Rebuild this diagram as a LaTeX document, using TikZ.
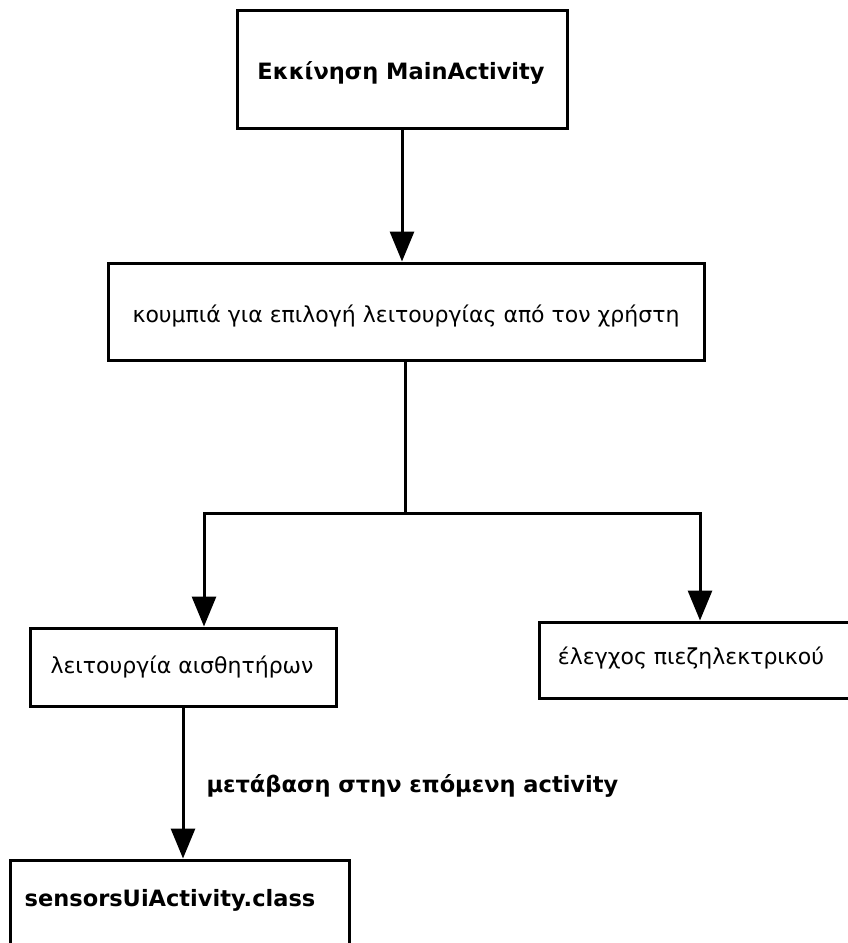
\documentclass[tikz,border=0pt]{standalone}
\usepackage{fontspec}
\setmainfont{DejaVu Sans}
\usetikzlibrary{arrows.meta}
\begin{document}
\begin{tikzpicture}[x=1pt,y=-1pt,
  box/.style={draw=black, line width=3pt, fill=white, inner sep=0pt},
  plain/.style={font=\fontsize{22}{26}\selectfont},
  heavy/.style={font=\fontsize{22.5}{26}\selectfont\bfseries},
  link/.style={line width=3pt},
  flow/.style={line width=3pt, -{Triangle[length=30pt,width=24pt]}}]
\useasboundingbox (0,0) rectangle (848,943);
\clip (0,0) rectangle (848,943);
\fill[white] (0,0) rectangle (848,943);

% boxes
\node[box, minimum width=330, minimum height=118] (start) at (402,69) {};
\node[heavy] (starttxt) at (401,73) {Εκκίνηση MainActivity};

\node[box, minimum width=596, minimum height=97] (menu) at (406,311.5) {};
\node[plain] (menutxt) at (406,316) {κουμπιά για επιλογή λειτουργίας από τον χρήστη};

\node[box, minimum width=306, minimum height=78] (sensors) at (183,667) {};
\node[plain] (sensorstxt) at (182,667) {λειτουργία αισθητήρων};

\node[box, minimum width=330, minimum height=76] (piezo) at (704,660) {};
\node[plain] (piezotxt) at (691,658) {έλεγχος πιεζηλεκτρικού};

\node[box, minimum width=339, minimum height=120] (ui) at (179.5,920) {};
\node[heavy] (uitxt) at (170,900) {sensorsUiActivity.class};

% connectors
\coordinate (split) at (405,513);
\draw[flow] (start.south -| 402,0) -- (menu.north -| 402,0);
\draw[link] (menu.south -| split) -- (split);
\draw[flow] (split) -| ([xshift=21pt]sensors.north);
\draw[flow] (split) -| ([xshift=-4pt]piezo.north);
\draw[flow] (sensors.south) -- (ui.north -| sensors.south);
\node[heavy, anchor=west] (nextlbl) at (203,786) {μετάβαση στην επόμενη activity};
\end{tikzpicture}
\end{document}
